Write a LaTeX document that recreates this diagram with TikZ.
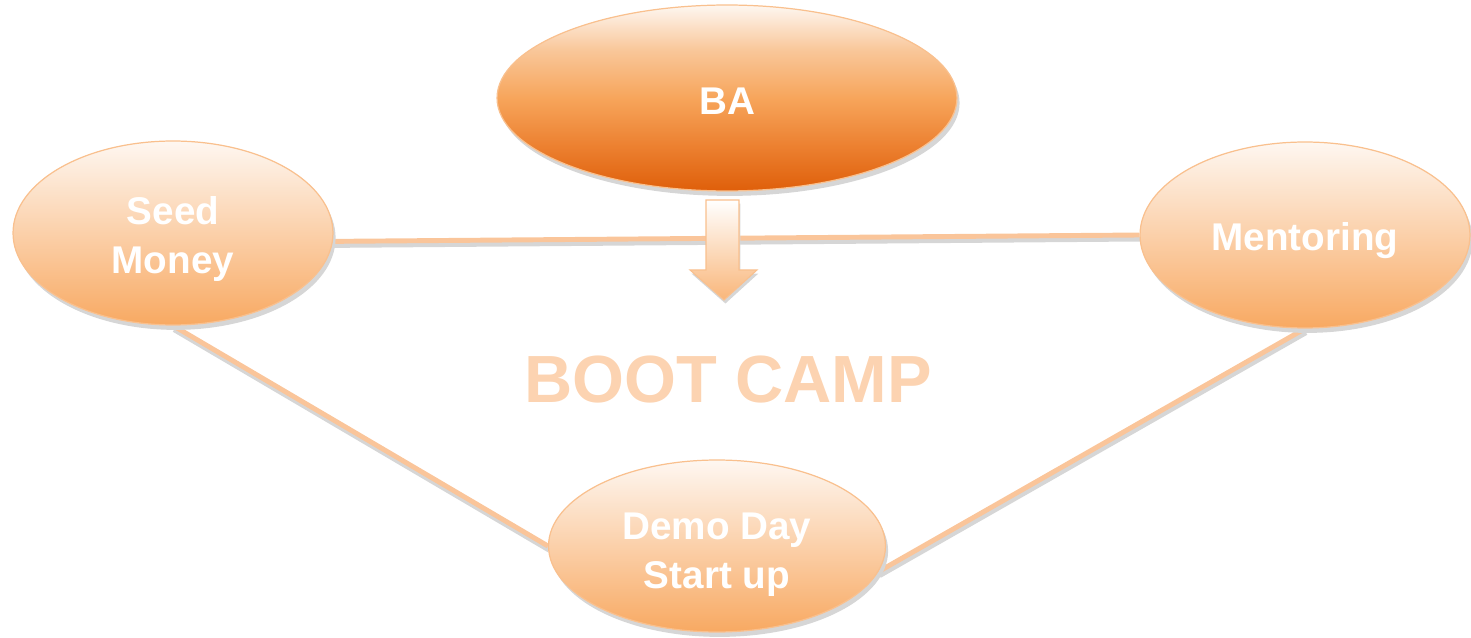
\documentclass[tikz,border=0pt]{standalone}
\usepackage{fontspec}
\setmainfont{Liberation Sans}
\usetikzlibrary{shapes.geometric,shadows,backgrounds}
\definecolor{lineor}{HTML}{FAC59A}
\definecolor{shadowgr}{HTML}{D6D6D6}
\definecolor{edgeor}{HTML}{F9C08E}
\definecolor{toplight}{HTML}{FEF7F1}
\definecolor{botor}{HTML}{F8A962}
\definecolor{bamid}{HTML}{F7A55B}
\definecolor{baupper}{HTML}{F9C79A}
\definecolor{balow}{HTML}{EC8030}
\definecolor{babot}{HTML}{DF5F0A}
\definecolor{campor}{HTML}{FCD3B1}
\pgfdeclareverticalshading{bashade}{100bp}{color(0bp)=(babot); color(25bp)=(babot); color(37bp)=(balow); color(50bp)=(bamid); color(63bp)=(baupper); color(75bp)=(toplight); color(100bp)=(toplight)}
\newcommand\lowtext[2][3.7pt]{\raisebox{-#1}[\height][\depth]{\begin{tabular}{@{}c@{}}#2\end{tabular}}}
\tikzset{
  bubble/.style={ellipse, draw=edgeor, line width=0.7pt, inner sep=0pt,
    shading=axis, top color=toplight, bottom color=botor,
    text=white, font=\bfseries\fontsize{22}{28}\selectfont,
    drop shadow={shadow xshift=1.5pt, shadow yshift=-2.8pt, fill=shadowgr, opacity=1}},
  babubble/.style={bubble, shading=bashade},
  link/.style={draw=lineor, line width=2.8pt},
  linkshadow/.style={draw=shadowgr, line width=2.8pt, transform canvas={xshift=0.6pt, yshift=-2.3pt}},
}
\begin{document}
\begin{tikzpicture}[x=0.02cm, y=-0.02cm]
\useasboundingbox (0,0) rectangle (1471,638);
% ellipses
\node[babubble, minimum width=9.2cm, minimum height=3.72cm] (ba) at (727,98) {\lowtext[4pt]{BA}};
\node[bubble, minimum width=6.4cm, minimum height=3.68cm] (sm) at (173,233) {\lowtext{Seed\\Money}};
\node[bubble, minimum width=6.6cm, minimum height=3.72cm] (mt) at (1305,235) {\lowtext[3.4pt]{Mentoring}};
\node[bubble, minimum width=6.74cm, minimum height=3.44cm] (dd) at (717,546) {\lowtext[4.6pt]{Demo Day\\Start up}};
% connectors beneath the ellipses
\begin{pgfonlayer}{background}
\draw[linkshadow] (sm.-3) -- (mt.west);
\draw[linkshadow] (sm.south) -- (dd.west);
\draw[linkshadow] (mt.south) -- (dd.-9);
\draw[link] (sm.-3) -- (mt.west);
\draw[link] (sm.south) -- (dd.west);
\draw[link] (mt.south) -- (dd.-9);
\end{pgfonlayer}
% block arrow
\fill[shadowgr, transform canvas={xshift=0.8pt, yshift=-2pt}]
  (706,200) -- (739,200) -- (739,270) -- (757,270) -- (724,300) -- (690,270) -- (706,270) -- cycle;
\shade[top color=white, bottom color=botor!85, draw=edgeor, line width=0.6pt]
  (706,200) -- (739,200) -- (739,270) -- (757,270) -- (724,300) -- (690,270) -- (706,270) -- cycle;
% title text
\node[text=campor, font=\bfseries\fontsize{38}{44}\selectfont] (camp) at (728,380) {BOOT CAMP};
\end{tikzpicture}
\end{document}
